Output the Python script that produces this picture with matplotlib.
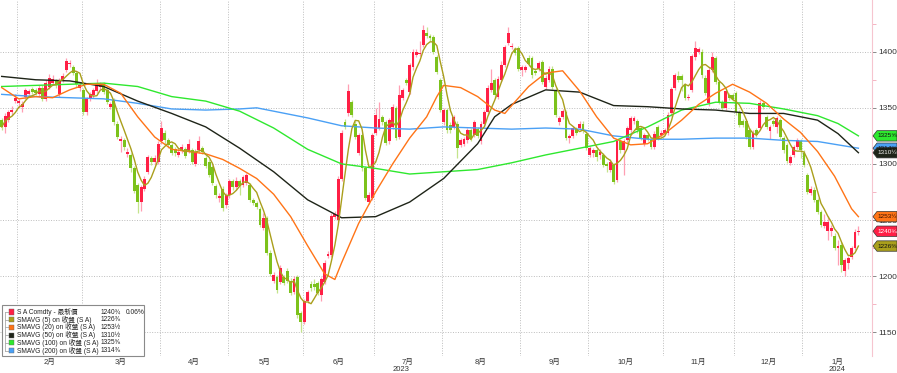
import numpy as np
import pandas as pd
import matplotlib
matplotlib.use("Agg")
import matplotlib.pyplot as plt
from matplotlib.patches import Polygon, Rectangle
from matplotlib.ticker import MultipleLocator

plt.rcParams["font.family"] = ["Liberation Sans", "Noto Sans CJK TC", "DejaVu Sans"]

# --- datos (S A Comdty, velas diarias) -------------------------------------
START = "2023-01-25"
HOLIDAYS = ["2023-02-20", "2023-05-29", "2023-06-19", "2023-07-04", "2023-09-04",
            "2023-11-23", "2023-12-25", "2024-01-01", "2024-01-15"]

opens = [1339, 1333, 1339, 1346, 1356, 1354, 1351, 1360, 1362, 1367, 1366, 1362, 1368, 1358, 1369, 1372, 1374, 1362, 1375, 1384,
         1389, 1386, 1381, 1368, 1366, 1346, 1358, 1361, 1365, 1369, 1371, 1366, 1351, 1357, 1336, 1320, 1321, 1309, 1308, 1296,
         1281, 1266, 1278, 1293, 1305, 1302, 1302, 1320, 1328, 1321, 1317, 1313, 1308, 1312, 1313, 1312, 1312, 1300, 1312, 1314,
         1305, 1302, 1297, 1280, 1270, 1278, 1263, 1272, 1285, 1279, 1285, 1281, 1283, 1281, 1268, 1265, 1260, 1243, 1252, 1221,
         1196, 1199, 1195, 1199, 1205, 1196, 1186, 1199, 1167, 1159, 1178, 1193, 1193, 1194, 1183, 1195, 1218, 1219, 1253, 1250,
         1287, 1337, 1345, 1355, 1336, 1310, 1326, 1296, 1266, 1270, 1328, 1332, 1342, 1337, 1320, 1333, 1350, 1324, 1359, 1375,
         1364, 1386, 1397, 1398, 1406, 1417, 1414, 1413, 1395, 1375, 1337, 1348, 1335, 1333, 1336, 1317, 1318, 1321, 1330, 1326,
         1331, 1320, 1336, 1346, 1366, 1375, 1360, 1375, 1388, 1408, 1404, 1402, 1403, 1384, 1384, 1394, 1394, 1383, 1385, 1391,
         1369, 1375, 1385, 1366, 1337, 1342, 1346, 1323, 1325, 1331, 1332, 1336, 1327, 1308, 1310, 1312, 1308, 1308, 1300, 1295,
         1299, 1286, 1320, 1312, 1321, 1330, 1338, 1338, 1332, 1318, 1326, 1321, 1315, 1333, 1326, 1328, 1328, 1345, 1368, 1378,
         1378, 1370, 1359, 1366, 1395, 1400, 1400, 1377, 1354, 1384, 1394, 1373, 1355, 1350, 1361, 1361, 1363, 1346, 1338, 1338,
         1330, 1315, 1330, 1332, 1354, 1342, 1329, 1338, 1333, 1339, 1323, 1317, 1301, 1308, 1315, 1320, 1310, 1290, 1274, 1277,
         1268, 1257, 1245, 1240, 1240, 1236, 1225, 1228, 1205, 1212, 1217, 1225, 1239]
highs = [1341, 1345, 1348, 1352, 1362, 1358, 1356, 1368, 1367, 1369, 1368, 1370, 1370, 1375, 1380, 1379, 1376, 1377, 1381, 1394,
         1393, 1388, 1383, 1373, 1368, 1360, 1364, 1368, 1376, 1373, 1373, 1368, 1355, 1359, 1338, 1325, 1323, 1314, 1310, 1298,
         1283, 1281, 1289, 1308, 1307, 1308, 1320, 1338, 1330, 1323, 1319, 1315, 1314, 1318, 1315, 1322, 1314, 1313, 1325, 1316,
         1307, 1304, 1299, 1282, 1274, 1280, 1274, 1287, 1287, 1288, 1287, 1290, 1292, 1283, 1270, 1267, 1262, 1256, 1254, 1223,
         1204, 1201, 1210, 1201, 1207, 1198, 1200, 1201, 1169, 1180, 1188, 1196, 1197, 1196, 1199, 1214, 1222, 1256, 1258, 1289,
         1330, 1340, 1371, 1357, 1338, 1328, 1328, 1298, 1275, 1328, 1350, 1355, 1344, 1339, 1341, 1353, 1352, 1370, 1368, 1377,
         1390, 1402, 1402, 1410, 1424, 1422, 1416, 1415, 1397, 1377, 1350, 1350, 1337, 1344, 1338, 1323, 1324, 1332, 1332, 1339,
         1333, 1338, 1348, 1370, 1385, 1377, 1378, 1392, 1406, 1422, 1408, 1404, 1405, 1388, 1388, 1397, 1396, 1385, 1392, 1393,
         1379, 1387, 1387, 1368, 1343, 1349, 1348, 1327, 1334, 1333, 1338, 1338, 1329, 1316, 1314, 1314, 1313, 1310, 1302, 1304,
         1301, 1322, 1322, 1322, 1334, 1343, 1343, 1340, 1334, 1328, 1328, 1323, 1329, 1335, 1330, 1332, 1346, 1369, 1381, 1383,
         1380, 1372, 1362, 1398, 1410, 1404, 1402, 1379, 1386, 1400, 1396, 1375, 1357, 1367, 1363, 1363, 1365, 1348, 1340, 1340,
         1332, 1330, 1332, 1357, 1356, 1344, 1335, 1340, 1343, 1341, 1325, 1319, 1308, 1317, 1323, 1322, 1312, 1292, 1280, 1279,
         1270, 1259, 1255, 1254, 1246, 1238, 1232, 1230, 1216, 1218, 1227, 1242, 1245]
lows = [1330, 1328, 1337, 1344, 1354, 1350, 1346, 1358, 1360, 1362, 1361, 1360, 1356, 1356, 1367, 1370, 1368, 1360, 1373, 1382,
        1386, 1379, 1369, 1365, 1344, 1344, 1356, 1359, 1363, 1367, 1362, 1353, 1349, 1335, 1322, 1311, 1312, 1306, 1293, 1274,
        1256, 1258, 1276, 1291, 1299, 1299, 1300, 1318, 1318, 1314, 1308, 1307, 1306, 1310, 1305, 1310, 1300, 1298, 1310, 1309,
        1296, 1288, 1281, 1270, 1266, 1258, 1261, 1270, 1277, 1277, 1272, 1279, 1281, 1266, 1263, 1260, 1244, 1241, 1219, 1200,
        1194, 1185, 1193, 1192, 1194, 1183, 1184, 1163, 1150, 1157, 1176, 1187, 1188, 1183, 1178, 1193, 1216, 1217, 1251, 1248,
        1285, 1331, 1343, 1342, 1322, 1308, 1294, 1268, 1264, 1268, 1326, 1330, 1335, 1317, 1318, 1331, 1321, 1322, 1357, 1370,
        1362, 1384, 1395, 1396, 1404, 1412, 1410, 1398, 1380, 1346, 1335, 1328, 1328, 1331, 1305, 1315, 1316, 1319, 1320, 1324,
        1323, 1318, 1334, 1344, 1364, 1359, 1358, 1373, 1386, 1406, 1402, 1397, 1383, 1378, 1382, 1387, 1377, 1379, 1383, 1371,
        1367, 1373, 1367, 1342, 1335, 1340, 1321, 1319, 1323, 1326, 1330, 1328, 1312, 1306, 1306, 1303, 1304, 1297, 1293, 1293,
        1282, 1284, 1310, 1290, 1319, 1328, 1336, 1328, 1321, 1316, 1320, 1313, 1313, 1321, 1324, 1326, 1326, 1343, 1366, 1373,
        1365, 1357, 1357, 1364, 1393, 1398, 1377, 1361, 1352, 1382, 1371, 1353, 1348, 1348, 1357, 1356, 1344, 1333, 1333, 1322,
        1313, 1313, 1324, 1330, 1349, 1331, 1322, 1334, 1328, 1322, 1310, 1301, 1299, 1306, 1313, 1305, 1297, 1273, 1272, 1266,
        1255, 1244, 1243, 1232, 1236, 1223, 1210, 1204, 1200, 1206, 1215, 1223, 1237]
closes = [1333, 1343, 1346, 1348, 1359, 1356, 1353, 1366, 1365, 1364, 1363, 1368, 1358, 1372, 1377, 1376, 1370, 1375, 1378, 1392,
          1390, 1381, 1371, 1370, 1346, 1358, 1362, 1366, 1372, 1371, 1364, 1355, 1353, 1337, 1324, 1322, 1315, 1311, 1296, 1276,
          1266, 1279, 1287, 1306, 1302, 1305, 1318, 1332, 1321, 1317, 1310, 1310, 1311, 1315, 1307, 1318, 1302, 1311, 1320, 1311,
          1298, 1290, 1283, 1272, 1271, 1261, 1272, 1285, 1279, 1285, 1280, 1288, 1290, 1268, 1265, 1262, 1246, 1252, 1221, 1202,
          1201, 1188, 1207, 1194, 1196, 1185, 1197, 1165, 1159, 1178, 1186, 1189, 1190, 1185, 1197, 1212, 1220, 1254, 1255, 1287,
          1328, 1333, 1365, 1344, 1324, 1326, 1296, 1270, 1272, 1326, 1344, 1340, 1337, 1319, 1339, 1351, 1323, 1361, 1366, 1372,
          1388, 1400, 1400, 1399, 1419, 1414, 1412, 1400, 1382, 1348, 1348, 1330, 1330, 1342, 1314, 1321, 1322, 1330, 1322, 1337,
          1325, 1336, 1346, 1368, 1372, 1361, 1376, 1388, 1404, 1417, 1405, 1399, 1385, 1386, 1386, 1389, 1379, 1381, 1390, 1373,
          1377, 1385, 1369, 1344, 1341, 1347, 1323, 1325, 1332, 1328, 1336, 1330, 1314, 1314, 1312, 1306, 1311, 1299, 1298, 1302,
          1284, 1320, 1312, 1320, 1332, 1341, 1341, 1330, 1323, 1326, 1322, 1315, 1327, 1323, 1328, 1330, 1344, 1367, 1379, 1375,
          1375, 1359, 1360, 1396, 1403, 1402, 1379, 1363, 1384, 1395, 1373, 1355, 1350, 1365, 1359, 1358, 1346, 1335, 1335, 1324,
          1315, 1328, 1326, 1354, 1351, 1333, 1333, 1336, 1341, 1324, 1312, 1303, 1306, 1315, 1321, 1312, 1299, 1275, 1278, 1268,
          1257, 1246, 1248, 1248, 1243, 1225, 1227, 1210, 1214, 1216, 1225, 1239, 1240]

# medias móviles (índice de vela, valor)
sma20_idx = [0, 5, 10, 15, 20, 25, 30, 35, 40, 45, 50, 55, 60, 65, 70, 75, 80, 85, 90, 95, 98, 100, 105, 110, 115, 120,
             125, 128, 130, 135, 140, 145, 148, 150, 155, 160, 165, 170, 175, 180, 185, 190, 195, 200, 205, 210, 215, 220,
             225, 230, 235, 240, 245, 250, 252]
sma20_val = [1368, 1358, 1360, 1359, 1366, 1371, 1371, 1363, 1342, 1324, 1313, 1311, 1309, 1304, 1296, 1287, 1273, 1253,
             1227, 1202, 1197, 1212, 1247, 1275, 1300, 1323, 1342, 1360, 1370, 1368, 1360, 1348, 1345, 1352, 1369, 1381,
             1383, 1365, 1342, 1323, 1317, 1318, 1327, 1339, 1353, 1363, 1371, 1364, 1354, 1340, 1328, 1311, 1289, 1260, 1253]
sma50_idx = [0, 10, 20, 30, 40, 50, 60, 70, 80, 90, 100, 110, 120, 130, 140, 145, 150, 160, 170, 180, 190, 200, 210, 220,
             230, 240, 246, 252]
sma50_val = [1378, 1375, 1374, 1369, 1356, 1345, 1333, 1314, 1293, 1268, 1252, 1253, 1266, 1287, 1318, 1342, 1353, 1366,
             1364, 1352, 1351, 1349, 1348, 1345, 1345, 1339, 1327, 1310]
sma100_idx = [0, 10, 20, 30, 40, 50, 60, 70, 80, 90, 100, 110, 120, 130, 140, 150, 160, 170, 180, 190, 200, 210, 220, 230,
              240, 246, 252]
sma100_val = [1369, 1370, 1371, 1372, 1369, 1360, 1356, 1347, 1332, 1313, 1300, 1296, 1291, 1293, 1295, 1301, 1308, 1314,
              1320, 1333, 1348, 1355, 1354, 1349, 1343, 1336, 1325]
sma200_idx = [0, 10, 20, 30, 40, 50, 60, 70, 75, 80, 90, 100, 110, 120, 130, 140, 150, 160, 170, 180, 190, 200, 210, 220,
              230, 240, 252]
sma200_val = [1362, 1360, 1359, 1358, 1354, 1349, 1348, 1349, 1350, 1347, 1341, 1334, 1332, 1331, 1333, 1332, 1331, 1332,
              1331, 1325, 1322, 1322, 1323, 1323, 1321, 1320, 1314]

legend_names = ["S A Comdty - 最新價", "SMAVG (5) on 收盤 (S A)", "SMAVG (20) on 收盤 (S A)",
                "SMAVG (50) on 收盤 (S A)", "SMAVG (100) on 收盤 (S A)", "SMAVG (200) on 收盤 (S A)"]
legend_values = ["1240¾", "1226⅜", "1253½", "1310½", "1325⅝", "1314⅜"]
last_change = "0.06%"

# --- estilo ----------------------------------------------------------------
RED, GREEN = "#ff1f45", "#7cc21b"
RED_WICK, GREEN_WICK = "#ff9fb3", "#c4e48c"
C_SMA5, C_SMA20, C_SMA50, C_SMA100, C_SMA200 = "#aa9f1c", "#ff7417", "#1e2418", "#2ee82e", "#4aa0f5"
GRID = "#bdbdbd"
W, H = 897, 373

n = len(closes)
x = np.arange(n)
o, h, l, c = (np.array(a, float) for a in (opens, highs, lows, closes))
dates = pd.bdate_range(START, periods=n, freq="C", holidays=HOLIDAYS)
sma5 = pd.Series(c).rolling(5, min_periods=1).mean().to_numpy()

XMAX = 256
fig = plt.figure(figsize=(W / 100, H / 100), dpi=100, facecolor="white")
ax = fig.add_axes([0, 1 - 356 / H, 872 / W, 356 / H])
ax.set_facecolor("white")

up = c >= o
ax.vlines(x[up], l[up], h[up], colors=RED_WICK, lw=0.9, zorder=2)
ax.vlines(x[~up], l[~up], h[~up], colors=GREEN_WICK, lw=0.9, zorder=2)
body = np.maximum(np.abs(c - o), 1.0)
ax.bar(x[up], body[up], bottom=np.minimum(o, c)[up], width=0.84, color=RED, zorder=3, linewidth=0)
ax.bar(x[~up], body[~up], bottom=np.minimum(o, c)[~up], width=0.84, color=GREEN, zorder=3, linewidth=0)

ax.plot(sma200_idx, sma200_val, color=C_SMA200, lw=1.0, zorder=4)
ax.plot(sma100_idx, sma100_val, color=C_SMA100, lw=1.0, zorder=4)
ax.plot(sma50_idx, sma50_val, color=C_SMA50, lw=1.0, zorder=4)
ax.plot(sma20_idx, sma20_val, color=C_SMA20, lw=1.0, zorder=4)
ax.plot(x, sma5, color=C_SMA5, lw=1.0, zorder=4)

ax.set_xlim(-0.5, XMAX)
ax.set_ylim(1128.8, 1446.1)

# ejes
for s in ("left", "top", "bottom"):
    ax.spines[s].set_visible(False)
ax.spines["right"].set_color("#f6c5cf")
ax.spines["right"].set_linewidth(0.8)
ax.yaxis.tick_right()
ax.yaxis.set_major_locator(MultipleLocator(50))
ax.yaxis.set_minor_locator(MultipleLocator(25))
ax.tick_params(axis="y", which="major", labelsize=6, length=3, width=0.6, color="#777", labelcolor="#333", pad=1.5)
ax.tick_params(axis="y", which="minor", length=3, width=0.6, color="#f3a9b9")
ax.set_xticks([])
ax.set_axisbelow(True)
dot = (0, (1, 1.6))
ax.grid(axis="y", which="major", ls=dot, color=GRID, lw=0.7)

# meses y años
per = dates.to_period("M")
months = list(dict.fromkeys(per))
for m in months:
    idx = np.where(per == m)[0]
    first, last = idx[0], idx[-1]
    if first > 0:
        ax.axvline(first - 0.5, ls=dot, color=GRID, lw=0.7, zorder=0.5)
    if len(idx) < 8:
        continue
    right = XMAX if m == months[-1] else last + 0.5
    ax.text((first - 0.5 + right) / 2, -6 / 356, f"{m.month}月", transform=ax.get_xaxis_transform(),
            ha="center", va="center", fontsize=5.5, color="#333")
for yr in sorted(set(dates.year)):
    idx = np.where(dates.year == yr)[0]
    right = XMAX if yr == dates.year[-1] else idx[-1] + 0.5
    ax.text((idx[0] - 0.5 + right) / 2, -13.5 / 356, str(yr), transform=ax.get_xaxis_transform(),
            ha="center", va="center", fontsize=5.5, color="#333")

# etiquetas de último valor a la derecha
tr = ax.get_yaxis_transform()
tags = [(sma100_val[-1], C_SMA100, legend_values[4], "#111"),
        (sma200_val[-1], C_SMA200, legend_values[5], "#111"),
        (sma50_val[-1], C_SMA50, legend_values[3], "#eee"),
        (sma20_val[-1], C_SMA20, legend_values[2], "#3a1000"),
        (closes[-1], RED, legend_values[0], "white"),
        (sma5[-1], C_SMA5, legend_values[1], "#111")]
hh = 5.2 / 1.122
ax_w = 872
for val, fc, txt, tc in tags:
    pts = [(873 / ax_w, val), (877 / ax_w, val + hh), (897 / ax_w, val + hh), (897 / ax_w, val - hh), (877 / ax_w, val - hh)]
    ax.add_patch(Polygon(pts, closed=True, transform=tr, clip_on=False, fc=fc, ec="#333", lw=0.5, zorder=10))
    ax.text(877.5 / ax_w, val, txt, transform=tr, fontsize=4.6, color=tc, ha="left", va="center", zorder=11, clip_on=False)

# leyenda
def fp(px, py):
    return px / W, 1 - py / H

box = Rectangle(fp(2, 356), 142 / W, 51 / H, transform=fig.transFigure, fc="white", ec="#8a8a8a", lw=0.8, zorder=20)
fig.add_artist(box)
rows = [312, 319.7, 327.4, 335.1, 342.8, 350.5]
cols = [RED, C_SMA5, C_SMA20, C_SMA50, C_SMA100, C_SMA200]
fig.add_artist(plt.Line2D([5 / W, 5 / W], [fp(0, rows[0])[1], fp(0, rows[-1])[1]], transform=fig.transFigure,
                          color="#aaa", lw=0.6, zorder=21))
for ry, col, name, val in zip(rows, cols, legend_names, legend_values):
    fig.add_artist(plt.Line2D([5 / W, 8 / W], [fp(0, ry)[1]] * 2, transform=fig.transFigure, color="#aaa", lw=0.6, zorder=21))
    fig.add_artist(Rectangle(fp(8.5, ry + 2.6), 5 / W, 5.2 / H, transform=fig.transFigure, fc=col, ec="#666",
                             lw=0.3, zorder=21))
    fig.text(16.5 / W, fp(0, ry)[1], name, fontsize=4.8, color="#222", ha="left", va="center", zorder=22)
    fig.text(101 / W, fp(0, ry)[1], val, fontsize=4.8, color="#222", ha="left", va="center", zorder=22)
fig.text(126 / W, fp(0, rows[0])[1], last_change, fontsize=4.8, color="#222", ha="left", va="center", zorder=22)

fig.savefig("out.png", dpi=100, facecolor="white")
